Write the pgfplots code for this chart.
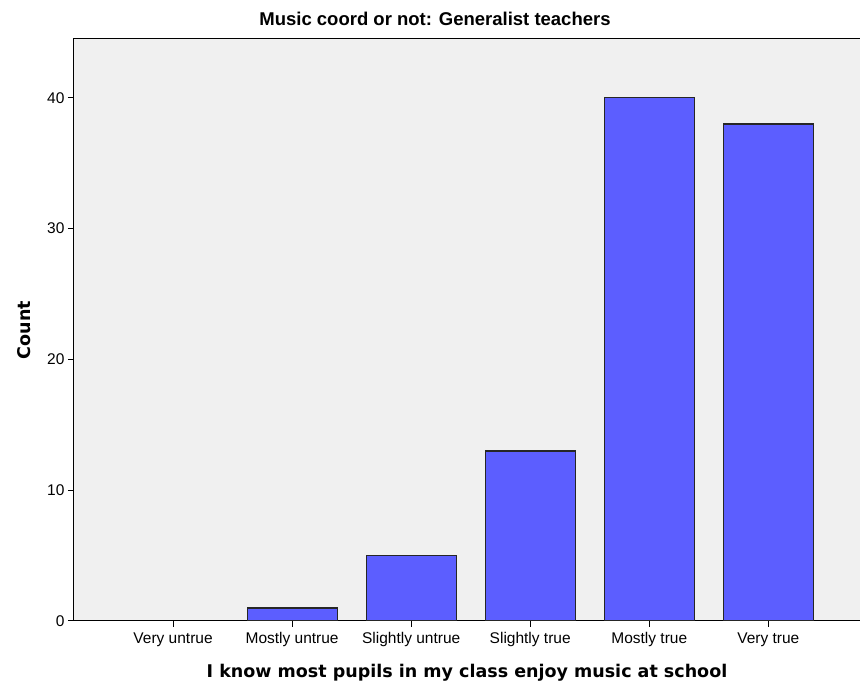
\documentclass[border=0pt]{standalone}
\usepackage{fontspec}
\setmainfont{Liberation Sans}
\newfontfamily\dejavu{DejaVu Sans}
\usepackage{pgfplots}
\pgfplotsset{compat=1.18}

\definecolor{barblue}{RGB}{92,94,255}
\definecolor{bggray}{RGB}{240,240,240}

\begin{document}
\begin{tikzpicture}
\begin{axis}[
  name=ax,
  scale only axis,
  width=786pt,
  height=582pt,
  xmin=-0.832, xmax=5.77,
  ymin=0, ymax=44.5,
  axis background/.style={fill=bggray},
  axis line style={black, line width=1pt},
  tick align=outside,
  tick pos=left,
  major tick length=6pt,
  tick style={black, line width=1pt},
  xtick={0,1,2,3,4,5},
  xticklabels={Very untrue,Mostly untrue,Slightly untrue,Slightly true,Mostly true,Very true},
  ytick={0,10,20,30,40},
  /pgf/number format/assume math mode=true,
  tick label style={font=\fontsize{15.5}{18}\selectfont},
  xticklabel style={yshift=-2pt},
  title={Music coord or not: Generalist teachers},
  title style={font=\bfseries\fontsize{18.5}{21}\selectfont, at={(axis description cs:0.5,1)}, anchor=base, yshift=7pt, xshift=-32pt},
  xlabel={I know most pupils in my class enjoy music at school},
  xlabel style={font=\dejavu\bfseries\fontsize{17.5}{20}\selectfont, at={(axis description cs:0.5,-0.0893)}, anchor=center},
  ylabel={Count},
  ylabel style={font=\dejavu\bfseries\fontsize{17.5}{20}\selectfont, at={(axis description cs:-0.0636,0.5)}, anchor=center, rotate=0},
]
\addplot[ybar, bar width=90pt, bar shift=0pt, fill=barblue, draw=black!85, line width=1.2pt]
  coordinates {(1,1) (2,5) (3,13) (4,40) (5,38)};
\end{axis}
\pgfresetboundingbox
\path[use as bounding box] ([xshift=-74pt,yshift=-63pt]ax.south west) rectangle ([yshift=39pt]ax.north east);
\end{tikzpicture}
\end{document}
